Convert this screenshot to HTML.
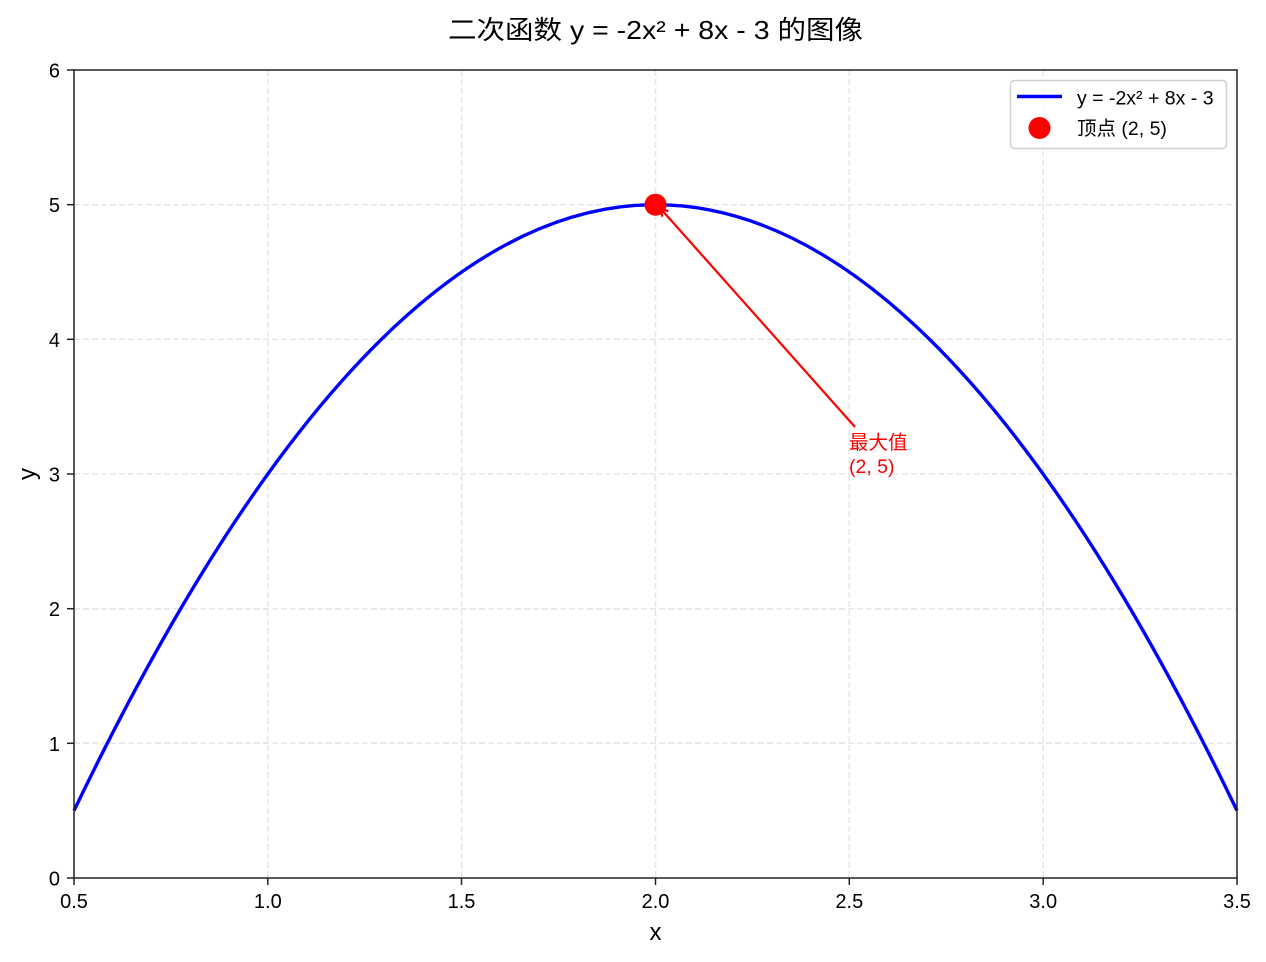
<!DOCTYPE html>
<html>
<head>
<meta charset="utf-8">
<style>
  html, body { margin: 0; padding: 0; background: #ffffff; }
  svg { display: block; }
  text { font-family: "Liberation Sans", "Noto Sans CJK SC", sans-serif; }
</style>
</head>
<body>
<svg width="1266" height="962" viewBox="0 0 1266 962" xmlns="http://www.w3.org/2000/svg">
  <rect x="0" y="0" width="1266" height="962" fill="#ffffff"/>

  <!-- Title -->
  <text x="655.5" y="39" font-size="26" text-anchor="middle" fill="#000" textLength="415" lengthAdjust="spacingAndGlyphs">二次函数 y = -2x² + 8x - 3 的图像</text>

  <!-- Grid -->
  <g stroke="#e6e6e6" stroke-width="1.5" stroke-dasharray="6,3" fill="none">
    <line x1="267.8" y1="70" x2="267.8" y2="878"/>
    <line x1="461.5" y1="70" x2="461.5" y2="878"/>
    <line x1="655.5" y1="70" x2="655.5" y2="878"/>
    <line x1="849.3" y1="70" x2="849.3" y2="878"/>
    <line x1="1043.2" y1="70" x2="1043.2" y2="878"/>
    <line x1="74" y1="743.3" x2="1237" y2="743.3"/>
    <line x1="74" y1="608.7" x2="1237" y2="608.7"/>
    <line x1="74" y1="474" x2="1237" y2="474"/>
    <line x1="74" y1="339.3" x2="1237" y2="339.3"/>
    <line x1="74" y1="204.7" x2="1237" y2="204.7"/>
  </g>

  <!-- Curve -->
  <path d="M74 810.67 Q655.5 -401.33 1237 810.67" fill="none" stroke="#0000ff" stroke-width="3.4"/>

  <!-- Vertex -->
  <circle cx="655.5" cy="204.7" r="11" fill="#ff0000"/>

  <!-- Annotation arrow -->
  <g stroke="#ff0000" stroke-width="2.2" fill="none" stroke-linecap="butt">
    <line x1="855" y1="427" x2="660.5" y2="208.5"/>
    <polyline points="662.3,216.7 660.3,208.3 668.3,211.3"/>
  </g>
  <text x="849" y="449" font-size="19.5" fill="#ff0000">最大值</text>
  <text x="849" y="473" font-size="19.5" fill="#ff0000">(2, 5)</text>

  <!-- Spines -->
  <rect x="74" y="70" width="1163" height="808" fill="none" stroke="#222" stroke-width="1.5"/>

  <!-- X ticks -->
  <g stroke="#222" stroke-width="1.5">
    <line x1="74" y1="878" x2="74" y2="885"/>
    <line x1="267.8" y1="878" x2="267.8" y2="885"/>
    <line x1="461.5" y1="878" x2="461.5" y2="885"/>
    <line x1="655.5" y1="878" x2="655.5" y2="885"/>
    <line x1="849.3" y1="878" x2="849.3" y2="885"/>
    <line x1="1043.2" y1="878" x2="1043.2" y2="885"/>
    <line x1="1237" y1="878" x2="1237" y2="885"/>
  </g>
  <g font-size="20" text-anchor="middle" fill="#000">
    <text x="74" y="908">0.5</text>
    <text x="267.8" y="908">1.0</text>
    <text x="461.5" y="908">1.5</text>
    <text x="655.5" y="908">2.0</text>
    <text x="849.3" y="908">2.5</text>
    <text x="1043.2" y="908">3.0</text>
    <text x="1237" y="908">3.5</text>
  </g>

  <!-- Y ticks -->
  <g stroke="#222" stroke-width="1.5">
    <line x1="67" y1="878" x2="74" y2="878"/>
    <line x1="67" y1="743.3" x2="74" y2="743.3"/>
    <line x1="67" y1="608.7" x2="74" y2="608.7"/>
    <line x1="67" y1="474" x2="74" y2="474"/>
    <line x1="67" y1="339.3" x2="74" y2="339.3"/>
    <line x1="67" y1="204.7" x2="74" y2="204.7"/>
    <line x1="67" y1="70" x2="74" y2="70"/>
  </g>
  <g font-size="20" text-anchor="end" fill="#000">
    <text x="60" y="885.5">0</text>
    <text x="60" y="750.8">1</text>
    <text x="60" y="616.2">2</text>
    <text x="60" y="481.5">3</text>
    <text x="60" y="346.8">4</text>
    <text x="60" y="212.2">5</text>
    <text x="60" y="77.5">6</text>
  </g>

  <!-- Axis labels -->
  <text x="655.5" y="940" font-size="24" text-anchor="middle" fill="#000">x</text>
  <text x="0" y="0" font-size="24" text-anchor="middle" fill="#000" transform="translate(35,474) rotate(-90)">y</text>

  <!-- Legend -->
  <rect x="1010.5" y="80.5" width="216" height="68" rx="4" ry="4" fill="#ffffff" fill-opacity="0.8" stroke="#d0d0d0" stroke-width="1.5"/>
  <line x1="1017" y1="96.5" x2="1062" y2="96.5" stroke="#0000ff" stroke-width="3.4"/>
  <circle cx="1039.5" cy="128" r="11" fill="#ff0000"/>
  <text x="1077" y="104.5" font-size="19.5" fill="#000">y = -2x² + 8x - 3</text>
  <text x="1077" y="135" font-size="19.5" fill="#000">顶点 (2, 5)</text>
</svg>
</body>
</html>
